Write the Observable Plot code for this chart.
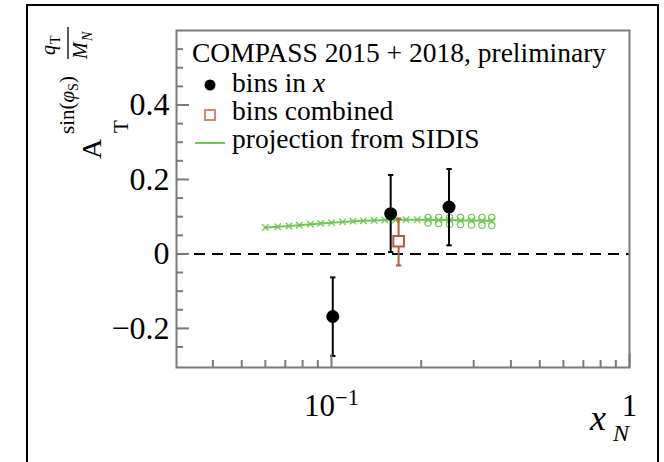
<!DOCTYPE html>
<html>
<head>
<meta charset="utf-8">
<script src="https://cdn.jsdelivr.net/npm/d3@7"></script>
<script src="https://cdn.jsdelivr.net/npm/@observablehq/plot@0.6"></script>
<style>
  html, body { margin: 0; padding: 0; background: #fff; overflow: hidden; }
  #wrap { position: relative; width: 664px; height: 462px; overflow: hidden; }
  #border { position: absolute; left: 26px; top: 4px; width: 629px; height: 480px; border: 2px solid #000; pointer-events: none; }
</style>
</head>
<body>
<div id="wrap"><div id="chart"></div><div id="border"></div></div>
<script>
// ---- data ----
const binX   = [0.101, 0.158, 0.248];
const binY   = [-0.168, 0.108, 0.126];
const binLo  = [-0.274, 0.005, 0.023];
const binHi  = [-0.063, 0.212, 0.228];

const combX  = [0.168];
const combY  = [0.034];
const combLo = [-0.031];
const combHi = [0.095];

const projX  = [0.060, 0.066, 0.072, 0.078, 0.085, 0.092, 0.100, 0.109, 0.118, 0.128, 0.139,
                0.151, 0.164, 0.178, 0.194, 0.211, 0.229, 0.249, 0.271, 0.295, 0.320, 0.345];
const projY  = [0.071, 0.073, 0.075, 0.077, 0.080, 0.082, 0.084, 0.086, 0.088, 0.089, 0.090,
                0.091, 0.091, 0.092, 0.092, 0.092, 0.091, 0.091, 0.090, 0.090, 0.089, 0.089];
const projLo = [0.070, 0.072, 0.074, 0.076, 0.079, 0.080, 0.082, 0.084, 0.085, 0.086, 0.086,
                0.086, 0.085, 0.085, 0.084, 0.083, 0.082, 0.080, 0.079, 0.078, 0.077, 0.076];
const projHi = [0.072, 0.074, 0.076, 0.078, 0.081, 0.084, 0.086, 0.088, 0.090, 0.092, 0.094,
                0.095, 0.096, 0.097, 0.098, 0.098, 0.098, 0.098, 0.098, 0.098, 0.098, 0.098];

const yMajor = [-0.2, 0, 0.2, 0.4];
const yMinor = [-0.25, -0.15, -0.1, -0.05, 0.05, 0.1, 0.15, 0.25, 0.3, 0.35, 0.45, 0.5, 0.55];
const xMajor = [0.1, 1];
const xMinor = [0.04, 0.05, 0.06, 0.07, 0.08, 0.09, 0.2, 0.3, 0.4, 0.5, 0.6, 0.7, 0.8, 0.9];
const xTickLabels = ["10−1", "1"];

const legendTitle = "COMPASS 2015 + 2018, preliminary";
const legendLabels = ["bins in ", "bins combined", "projection from SIDIS"];

// ---- tables ----
const bins = binX.map((x, i) => ({x, y: binY[i], lo: binLo[i], hi: binHi[i]}));
const comb = combX.map((x, i) => ({x, y: combY[i], lo: combLo[i], hi: combHi[i]}));
const proj = projX.map((x, i) => ({x, y: projY[i], lo: projLo[i], hi: projHi[i]}));
const projSpread = proj.filter(d => d.x >= 0.2);

const serif = "'Liberation Serif', 'DejaVu Serif', serif";
const GREEN = "#72c654";
const RED = "#b9583c";
const FRAME = "#7a7a7a";
const W = 664, H = 462, ML = 176, MR = 35, MT = 30, MB = 95;
const PW = W - ML - MR, PH = H - MT - MB;

const cap = {draw(ctx, size) { const w = Math.sqrt(size) / 2; ctx.moveTo(-w, 0); ctx.lineTo(w, 0); }};

const chart = Plot.plot({
  width: W, height: H,
  marginLeft: ML, marginRight: MR, marginTop: MT, marginBottom: MB,
  style: {background: "#fff", color: "#000", fontFamily: serif},
  x: {type: "log", domain: [0.0302, 1], axis: null},
  y: {domain: [-0.305, 0.6], axis: null},
  marks: [
    // projection band
    Plot.line(proj, {x: "x", y: "y", stroke: GREEN, strokeWidth: 2}),
    Plot.dot(proj, {x: "x", y: "y", symbol: "times", r: 3, stroke: GREEN, strokeWidth: 1.3}),
    Plot.dot(projSpread, {x: "x", y: "hi", symbol: "circle", r: 3.2, stroke: GREEN, strokeWidth: 1.2, fill: "none"}),
    Plot.dot(projSpread, {x: "x", y: "lo", symbol: "circle", r: 3.2, stroke: GREEN, strokeWidth: 1.2, fill: "none"}),
    // zero line
    Plot.ruleY([0], {stroke: "#000", strokeWidth: 2, strokeDasharray: "11,7"}),
    // combined bins
    Plot.link(comb, {x1: "x", x2: "x", y1: "lo", y2: "hi", stroke: RED, strokeWidth: 2}),
    Plot.dot(comb, {x: "x", y: "lo", symbol: cap, r: 3, stroke: RED, strokeWidth: 2, fill: "none"}),
    Plot.dot(comb, {x: "x", y: "hi", symbol: cap, r: 3, stroke: RED, strokeWidth: 2, fill: "none"}),
    Plot.dot(comb, {x: "x", y: "y", symbol: "square", r: 6, stroke: RED, strokeWidth: 2, fill: "#fff"}),
    // bins in x
    Plot.link(bins, {x1: "x", x2: "x", y1: "lo", y2: "hi", stroke: "#000", strokeWidth: 2}),
    Plot.dot(bins, {x: "x", y: "lo", symbol: cap, r: 3, stroke: "#000", strokeWidth: 2, fill: "none"}),
    Plot.dot(bins, {x: "x", y: "hi", symbol: cap, r: 3, stroke: "#000", strokeWidth: 2, fill: "none"}),
    Plot.dot(bins, {x: "x", y: "y", r: 6.5, fill: "#000"}),
    // frame and ticks
    Plot.frame({stroke: FRAME, strokeWidth: 2}),
    Plot.ruleY(yMajor, {y: d => d, insetRight: PW - 13, stroke: FRAME, strokeWidth: 2}),
    Plot.ruleY(yMinor, {y: d => d, insetRight: PW - 7, stroke: FRAME, strokeWidth: 2}),
    Plot.ruleX(xMajor, {x: d => d, insetTop: PH - 13, stroke: FRAME, strokeWidth: 2}),
    Plot.ruleX(xMinor, {x: d => d, insetTop: PH - 7, stroke: FRAME, strokeWidth: 2}),
    Plot.axisY(yMajor, {anchor: "left", label: null, tickSize: 0, tickPadding: 7, fontSize: 32, fontFamily: serif,
      tickFormat: d => d === 0 ? "0" : String(d).replace("-", "−")}),
    Plot.axisX(xMajor, {anchor: "bottom", label: null, tickSize: 0, tickPadding: 26, fontSize: 31, fontFamily: serif,
      tickFormat: d => xTickLabels[xMajor.indexOf(d)]})
  ]
});
document.getElementById("chart").appendChild(chart);

const svg = d3.select(chart);

// superscript for 10^-1
svg.selectAll("text").each(function() {
  const t = d3.select(this);
  if (t.text() === "10−1") {
    t.text("10");
    t.append("tspan").attr("dy", "-0.45em").attr("font-size", "0.72em").text("−1");
  }
});

// legend
const LF = 27.5;
const lg = svg.append("g").attr("font-family", serif).attr("fill", "#000").attr("text-anchor", "start");
lg.append("text").attr("x", 192).attr("y", 62).attr("font-size", LF).text(legendTitle);
lg.append("circle").attr("cx", 210).attr("cy", 85).attr("r", 5.5).attr("fill", "#000");
const t1 = lg.append("text").attr("x", 232).attr("y", 92).attr("font-size", LF).text(legendLabels[0]);
t1.append("tspan").attr("font-style", "italic").text("x");
lg.append("rect").attr("x", 205).attr("y", 110).attr("width", 10).attr("height", 10)
  .attr("fill", "#fff").attr("stroke", "#c98a78").attr("stroke-width", 2);
lg.append("text").attr("x", 232).attr("y", 120).attr("font-size", LF).text(legendLabels[1]);
lg.append("line").attr("x1", 195).attr("x2", 225).attr("y1", 143).attr("y2", 143)
  .attr("stroke", GREEN).attr("stroke-width", 2);
lg.append("text").attr("x", 232).attr("y", 148).attr("font-size", LF).text(legendLabels[2]);

// x axis label
const xl = svg.append("text").attr("font-family", serif).attr("fill", "#000").attr("text-anchor", "start");
xl.append("tspan").attr("x", 590).attr("y", 430).attr("font-size", 36).attr("font-style", "italic").text("x");
xl.append("tspan").attr("x", 613).attr("y", 441).attr("font-size", 24).attr("font-style", "italic").text("N");

// y axis label (rotated): local (lx, ly) -> screen (ly, -lx)
const yl = svg.append("g").attr("transform", "rotate(-90)").attr("font-family", serif).attr("fill", "#000").attr("text-anchor", "start");
yl.append("text").attr("x", -159).attr("y", 101).attr("font-size", 28).text("A");
yl.append("text").attr("x", -133).attr("y", 128).attr("font-size", 21).text("T");
const sup = yl.append("text").attr("x", -134).attr("y", 74).attr("font-size", 21);
sup.append("tspan").text("sin(");
sup.append("tspan").attr("font-style", "italic").text("φ");
sup.append("tspan").attr("font-size", 14).attr("dy", 4).text("S");
sup.append("tspan").attr("dy", -4).text(")");
yl.append("text").attr("x", -55).attr("y", 55).attr("font-size", 20).attr("font-style", "italic").text("q");
yl.append("text").attr("x", -44).attr("y", 60).attr("font-size", 14).text("T");
yl.append("line").attr("x1", -59).attr("x2", -27).attr("y1", 68).attr("y2", 68).attr("stroke", "#000").attr("stroke-width", 1.3);
yl.append("text").attr("x", -59).attr("y", 87).attr("font-size", 20).attr("font-style", "italic").text("M");
yl.append("text").attr("x", -41).attr("y", 92).attr("font-size", 14).attr("font-style", "italic").text("N");
</script>
</body>
</html>
